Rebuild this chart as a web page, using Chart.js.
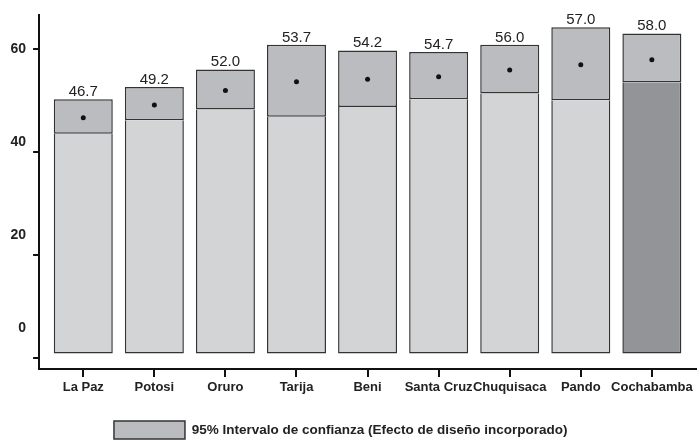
<!DOCTYPE html>
<html>
<head>
<meta charset="utf-8">
<script src="https://cdn.jsdelivr.net/npm/chart.js@4/dist/chart.umd.min.js"></script>
<style>
  body { margin: 0; background: #fff; }
  #wrap { width: 700px; height: 441px; }
</style>
</head>
<body>
<div id="wrap"><canvas id="chart" width="700" height="441"></canvas></div>
<script>
// Departments
const categories = ['La Paz', 'Potosi', 'Oruro', 'Tarija', 'Beni', 'Santa Cruz', 'Chuquisaca', 'Pando', 'Cochabamba'];
// Point estimate (label above bar)
const estimates = [46.7, 49.2, 52.0, 53.7, 54.2, 54.7, 56.0, 57.0, 58.0];
// 95% CI bounds
const lowerCI = [43.6, 46.2, 48.3, 46.9, 48.8, 50.3, 51.4, 50.1, 53.6];
const upperCI = [50.3, 52.7, 56.1, 60.9, 59.8, 59.5, 60.9, 64.3, 63.1];
// bars start slightly above zero in the original
const barBase = 0.8;
const yTicks = [0, 20, 40, 60];

const lightGrey = '#d3d4d6';
const ciGrey = '#bbbcc0';
const highlightGrey = '#939497';

Chart.defaults.font.family = '"Liberation Sans", Arial, sans-serif';
Chart.defaults.color = '#222';

// value labels above each bar
const valueLabels = {
    id: 'valueLabels',
    afterDatasetsDraw(chart) {
        let ctx = chart.ctx;
        let meta = chart.getDatasetMeta(1);
        ctx.save();
        ctx.font = '15px "Liberation Sans", Arial, sans-serif';
        ctx.fillStyle = '#222';
        ctx.textAlign = 'center';
        ctx.textBaseline = 'alphabetic';
        meta.data.forEach(function (bar, i) {
            ctx.fillText(estimates[i].toFixed(1), bar.x, bar.y - 3);
        });
        ctx.restore();
    }
};

// legend sits a bit left of centre in the original
const legendShift = {
    id: 'legendShift',
    afterLayout(chart) {
        if (chart.legend) chart.legend.left -= 22;
    }
};

new Chart(document.getElementById('chart').getContext('2d'), {
    type: 'bar',
    data: {
        datasets: [
            {
                label: 'base',
                order: 2,
                data: categories.map((c, i) => ({x: i, y: [barBase, lowerCI[i]]})),
                backgroundColor: categories.map((c, i) => i === categories.length - 1 ? highlightGrey : lightGrey),
                borderColor: '#333',
                borderWidth: 1.5,
                borderSkipped: 'end',
                grouped: false,
                categoryPercentage: 1,
                barPercentage: 0.83,
                yAxisID: 'y'
            },
            {
                label: '95% Intervalo de confianza (Efecto de diseño incorporado)',
                order: 1,
                data: categories.map((c, i) => ({x: i, y: [lowerCI[i], upperCI[i]]})),
                backgroundColor: ciGrey,
                borderColor: '#333',
                borderWidth: 1.5,
                borderSkipped: false,
                grouped: false,
                categoryPercentage: 1,
                barPercentage: 0.83,
                yAxisID: 'y'
            },
            {
                type: 'line',
                label: 'estimate',
                order: 0,
                data: categories.map((c, i) => ({x: i, y: estimates[i]})),
                showLine: false,
                pointRadius: 2.5,
                pointBackgroundColor: '#111',
                pointBorderWidth: 0,
                yAxisID: 'y'
            }
        ]
    },
    options: {
        responsive: false,
        animation: false,
        layout: { padding: { top: 8, left: 3.5, right: 0, bottom: -8 } },
        plugins: {
            tooltip: { enabled: false },
            legend: {
                position: 'bottom',
                labels: {
                    filter: item => item.datasetIndex === 1,
                    boxWidth: 71,
                    boxHeight: 18,
                    padding: 2,
                    font: { size: 13.5, weight: 'bold' },
                    color: '#222'
                }
            }
        },
        scales: {
            x: {
                type: 'linear',
                offset: false,
                min: -0.622,
                max: 8.621,
                afterBuildTicks: s => { s.ticks = categories.map((c, i) => ({value: i})); },
                afterFit: s => { s.height = 50; },
                ticks: {
                    callback: v => categories[v],
                    font: { size: 13, weight: 'bold' },
                    color: '#222',
                    padding: 3,
                    autoSkip: false,
                    maxRotation: 0
                },
                grid: { offset: false, drawOnChartArea: false, tickLength: 8, color: '#111', lineWidth: 2 },
                border: { color: '#111', width: 2 }
            },
            y: {
                position: 'left',
                weight: 0,
                min: -2.2,
                max: 66.62,
                afterBuildTicks: s => { s.ticks = yTicks.map(v => ({value: v})); },
                ticks: { display: false },
                grid: { drawOnChartArea: false, tickLength: 6, color: '#111', lineWidth: 2 },
                border: { color: '#111', width: 2 }
            },
            yl: {
                position: 'left',
                weight: 1,
                min: -8.73,
                max: 67.25,
                afterBuildTicks: s => { s.ticks = yTicks.map(v => ({value: v})); },
                ticks: { font: { size: 14, weight: 'bold' }, color: '#222', padding: 7 },
                grid: { display: false, drawTicks: false },
                border: { display: false }
            }
        }
    },
    plugins: [valueLabels, legendShift]
});
</script>
</body>
</html>
